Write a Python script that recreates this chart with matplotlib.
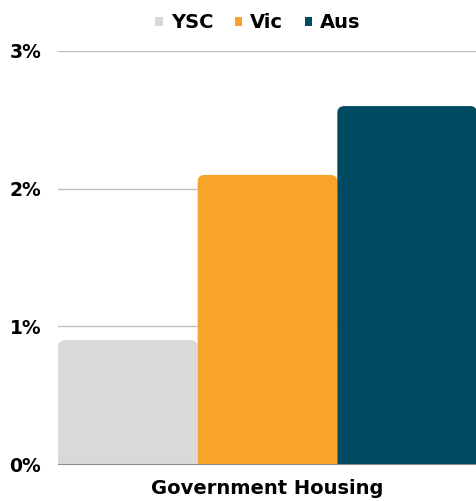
import numpy as np
import matplotlib.pyplot as plt
from matplotlib.patches import FancyBboxPatch, Patch

category = "Government Housing"
series = ["YSC", "Vic", "Aus"]
values = [0.9, 2.1, 2.6]
colors = ["#d9d9d9", "#f8a42b", "#014b62"]
yticks = [0, 1, 2, 3]

plt.rcParams['font.family'] = ['DejaVu Sans']

fig = plt.figure(figsize=(4.77, 5.01), dpi=100)
ax = fig.add_axes([58 / 477, 37 / 501, 419 / 477, 413 / 501])
ax.set_xlim(-0.5, 2.5)
ax.set_ylim(0, 3)

# rounded top corners: data units per pixel differ in x and y
px_x = 3.0 / 419
px_y = 3.0 / 413
r = 7
for i, (v, c) in enumerate(zip(values, colors)):
    w = 1.0
    box = FancyBboxPatch((i - w / 2, -r * px_y), w, v + r * px_y,
                         boxstyle="round,pad=0,rounding_size=%f" % (r * px_x),
                         mutation_aspect=px_y / px_x,
                         fc=c, ec="none", zorder=3, clip_on=True)
    ax.add_patch(box)

ax.set_yticks(yticks)
ax.set_yticklabels([f"{t}%" for t in yticks], fontsize=13.5, fontweight="bold")
ax.yaxis.grid(True, color="#c0c0c0", lw=1)
ax.set_axisbelow(True)
ax.tick_params(axis="y", length=0, pad=12)
ax.set_xticks([1])
ax.set_xticklabels([category], fontsize=14, fontweight="bold")
ax.tick_params(axis="x", length=0, pad=11)
for s in ["top", "right", "left"]:
    ax.spines[s].set_visible(False)
ax.spines["bottom"].set_color("#8a8a8a")
ax.spines["bottom"].set_zorder(4)

handles = [Patch(fc=c, ec="none", label=s) for s, c in zip(series, colors)]
leg = fig.legend(handles=handles, loc="center", bbox_to_anchor=(258 / 477, 1 - 23 / 501),
                 ncol=3, frameon=False, handlelength=0.4, handleheight=0.4,
                 handletextpad=0.4, columnspacing=1.1,
                 prop={"size": 14, "weight": "bold"})

fig.savefig("out.png", dpi=100)
